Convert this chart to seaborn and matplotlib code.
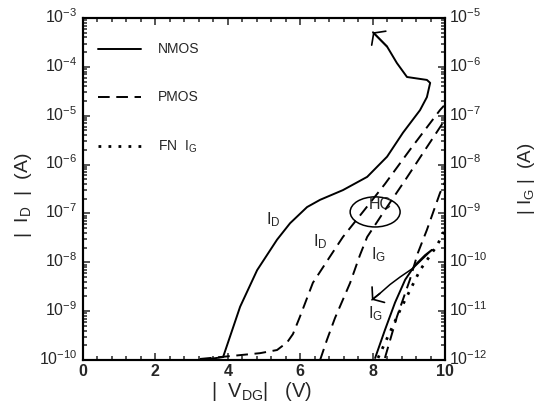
import numpy as np
import pandas as pd
import matplotlib
matplotlib.use("Agg")
import matplotlib.pyplot as plt
import matplotlib.transforms as mtransforms
import seaborn as sns
from matplotlib.patches import Ellipse
from matplotlib.lines import Line2D
from matplotlib.ticker import LogLocator, NullFormatter, MultipleLocator

# ---------------- data ----------------
# NMOS drain current (left axis), includes hand-drawn hook at the top
nmos_id_v = [3.50, 3.87, 4.34, 4.81, 5.36, 5.72, 6.19, 6.55, 7.18, 7.85, 8.40, 8.84,
             9.31, 9.50, 9.59, 9.50, 8.95, 8.67, 8.40, 8.01]
nmos_id_i = [1.05e-10, 1.15e-10, 1.23e-9, 6.9e-9, 2.9e-8, 6.3e-8, 1.35e-7, 1.9e-7, 3.0e-7,
             5.6e-7, 1.45e-6, 4.5e-6, 1.3e-5, 2.4e-5, 4.7e-5, 5.4e-5, 6.2e-5, 1.2e-4,
             2.6e-4, 5.1e-4]

# PMOS drain current (left axis)
pmos_id_v = [3.23, 4.06, 4.89, 5.36, 5.64, 5.80, 5.99, 6.35, 6.82, 7.18, 7.73, 8.34,
             9.03, 9.86, 9.97]
pmos_id_i = [1.05e-10, 1.2e-10, 1.38e-10, 1.6e-10, 2.3e-10, 3.4e-10, 7.6e-10, 3.8e-9,
             1.3e-8, 3.3e-8, 1.07e-7, 4.0e-7, 2.0e-6, 1.3e-5, 1.6e-5]

# PMOS gate current (right axis)
pmos_ig_v = [6.55, 6.74, 6.96, 7.38, 7.65, 7.85, 8.34, 8.90, 9.45, 9.94]
pmos_ig_i = [1.0e-12, 2.6e-12, 7.2e-12, 3.8e-11, 1.4e-10, 3.3e-10, 1.17e-9, 4.8e-9,
             2.0e-8, 7.1e-8]

# steep dashed gate current, bottom right (right axis)
pmos_ig2_v = [8.34, 8.67, 9.03, 9.25, 9.50, 9.86, 10.0]
pmos_ig2_i = [1.1e-12, 7.6e-12, 4.4e-11, 1.55e-10, 4.6e-10, 2.6e-9, 4.4e-9]

# NMOS gate current (right axis)
nmos_ig_v = [8.07, 8.34, 8.62, 8.90, 9.17, 9.45, 9.64]
nmos_ig_i = [1.1e-12, 4.1e-12, 1.5e-11, 4.4e-11, 8.7e-11, 1.4e-10, 1.8e-10]

# hand-drawn return arrow of NMOS I_G (right axis)
ig_arrow_v = [9.64, 9.12, 8.76, 8.48, 8.20, 7.98]
ig_arrow_i = [1.8e-10, 7.6e-11, 5.0e-11, 3.5e-11, 2.3e-11, 1.7e-11]

# Fowler-Nordheim gate current (right axis)
fn_ig_v = [8.15, 8.76, 9.31, 9.78, 9.97]
fn_ig_i = [1.1e-12, 1.05e-11, 6.9e-11, 2.2e-10, 4.2e-10]

x_ticks = [0, 2, 4, 6, 8, 10]
left_exps = [-10, -9, -8, -7, -6, -5, -4, -3]
right_exps = [-12, -11, -10, -9, -8, -7, -6, -5]
legend_labels = ["NMOS", "PMOS", r"FN  I$_{\mathrm{G}}$"]

# ---------------- style ----------------
sns.set_style("ticks")
plt.rcParams["font.family"] = ["Liberation Sans", "DejaVu Sans"]
plt.rcParams["mathtext.fontset"] = "custom"
plt.rcParams["mathtext.rm"] = "Liberation Sans"
plt.rcParams["mathtext.it"] = "Liberation Sans:italic"
plt.rcParams["mathtext.bf"] = "Liberation Sans:bold"

fig = plt.figure(figsize=(5.36, 4.08), dpi=100)
ax = fig.add_axes([83 / 536, 48 / 408, 362 / 536, 342 / 408])
ax.set_yscale("log")
ax2 = ax.twinx()
ax2.set_yscale("log")

LW = 1.4
dash = (0, (6, 3.4))
dot = (0, (1, 2.6))

kw = dict(sort=False, estimator=None, color="black", lw=LW, legend=False)
sns.lineplot(x=nmos_id_v, y=nmos_id_i, ax=ax, **kw)
sns.lineplot(x=pmos_id_v, y=pmos_id_i, ax=ax, linestyle=dash, **kw)
sns.lineplot(x=pmos_ig_v, y=pmos_ig_i, ax=ax2, linestyle=dash, **kw)
sns.lineplot(x=pmos_ig2_v, y=pmos_ig2_i, ax=ax2, linestyle=dash, **kw)
sns.lineplot(x=nmos_ig_v, y=nmos_ig_i, ax=ax2, **kw)
sns.lineplot(x=ig_arrow_v, y=ig_arrow_i, ax=ax2, sort=False, estimator=None,
             color="black", lw=1.1, legend=False)
sns.lineplot(x=fn_ig_v, y=fn_ig_i, ax=ax2, sort=False, estimator=None, color="black",
             lw=2.0, linestyle=dot, legend=False)

# arrow heads at ends of the hand-drawn hooks
head = dict(arrowstyle="->,head_length=0.4,head_width=0.55", color="black", lw=1.2,
            mutation_scale=13, shrinkA=0, shrinkB=0)
ax.annotate("", xy=(nmos_id_v[-1], nmos_id_i[-1]), xytext=(nmos_id_v[-2], nmos_id_i[-2]),
            arrowprops=head)
ax2.annotate("", xy=(ig_arrow_v[-1], ig_arrow_i[-1]), xytext=(ig_arrow_v[-2], ig_arrow_i[-2]),
             arrowprops=head)

# axes limits / ticks
ax.set_xlim(0, 10)
ax.set_ylim(1e-10, 1e-3)
ax2.set_ylim(1e-12, 1e-5)

ax.set_xticks(x_ticks)
ax.set_xticklabels([str(t) for t in x_ticks], fontsize=11.5, fontweight="bold")
ax.xaxis.set_minor_locator(MultipleLocator(0.4))
ax.set_yticks([10.0 ** e for e in left_exps])
ax.set_yticklabels([r"$\mathregular{10^{%d}}$" % e for e in left_exps], fontsize=11.5)
ax.yaxis.set_minor_locator(LogLocator(base=10, subs=np.arange(2, 10), numticks=20))
ax.yaxis.set_minor_formatter(NullFormatter())
ax2.set_yticks([10.0 ** e for e in right_exps])
ax2.set_yticklabels([r"$\mathregular{10^{%d}}$" % e for e in right_exps], fontsize=11.5)
ax2.yaxis.set_minor_locator(LogLocator(base=10, subs=np.arange(2, 10), numticks=20))
ax2.yaxis.set_minor_formatter(NullFormatter())

ax.tick_params(which="both", direction="in", top=True, right=False, width=1.1, pad=4)
ax.tick_params(which="major", length=5)
ax.tick_params(which="minor", length=3)
ax.tick_params(axis="x", pad=3)
ax2.tick_params(which="both", direction="in", width=1.1, pad=3)
ax2.tick_params(which="major", length=5)
ax2.tick_params(which="minor", length=3)
for a in (ax, ax2):
    for s in a.spines.values():
        s.set_linewidth(1.5)
        s.set_color("black")

# nudge the power-of-ten labels up a little (as in the reference)
up = mtransforms.ScaledTranslation(0, 0.03, fig.dpi_scale_trans)
for lab in ax.get_yticklabels() + ax2.get_yticklabels():
    lab.set_transform(lab.get_transform() + up)

# axis labels
ax.set_ylabel(r"|  I$_{\mathrm{D}}$  |  (A)", fontsize=14)
ax.yaxis.set_label_coords(-0.135, 0.482)
ax2.set_ylabel(r"| I$_{\mathrm{G}}$ |  (A)", fontsize=13.5, rotation=90)
ax2.yaxis.set_label_coords(1.195, 0.53)
ax.set_xlabel(r"|  V$_{\mathrm{DG}}$|   (V)", fontsize=14.5)
ax.xaxis.set_label_coords(0.494, -0.058)

# legend
handles = [Line2D([], [], color="black", lw=LW),
           Line2D([], [], color="black", lw=LW, linestyle=dash),
           Line2D([], [], color="black", lw=2.0, linestyle=dot)]
ax.legend(handles, legend_labels, loc="upper left", bbox_to_anchor=(0.014, 0.957),
          frameon=False, fontsize=10, handlelength=3.1, handletextpad=1.25,
          labelspacing=2.45, borderaxespad=0.3)

# curve labels
ax.text(5.25, 7.4e-8, r"I$_{\mathrm{D}}$", fontsize=12, ha="center", va="center")
ax.text(6.55, 2.6e-8, r"I$_{\mathrm{D}}$", fontsize=12, ha="center", va="center")
ax.text(8.15, 1.4e-8, r"I$_{\mathrm{G}}$", fontsize=12, ha="center", va="center")
ax.text(8.07, 8.7e-10, r"I$_{\mathrm{G}}$", fontsize=12, ha="center", va="center")
ax.text(8.2, 1.55e-7, "HC", fontsize=11.5, ha="center", va="center")
ax.add_patch(Ellipse((0.807, 0.433), 0.138, 0.088, transform=ax.transAxes,
                     fill=False, lw=1.1, color="black"))

fig.savefig("out.png", dpi=100)
